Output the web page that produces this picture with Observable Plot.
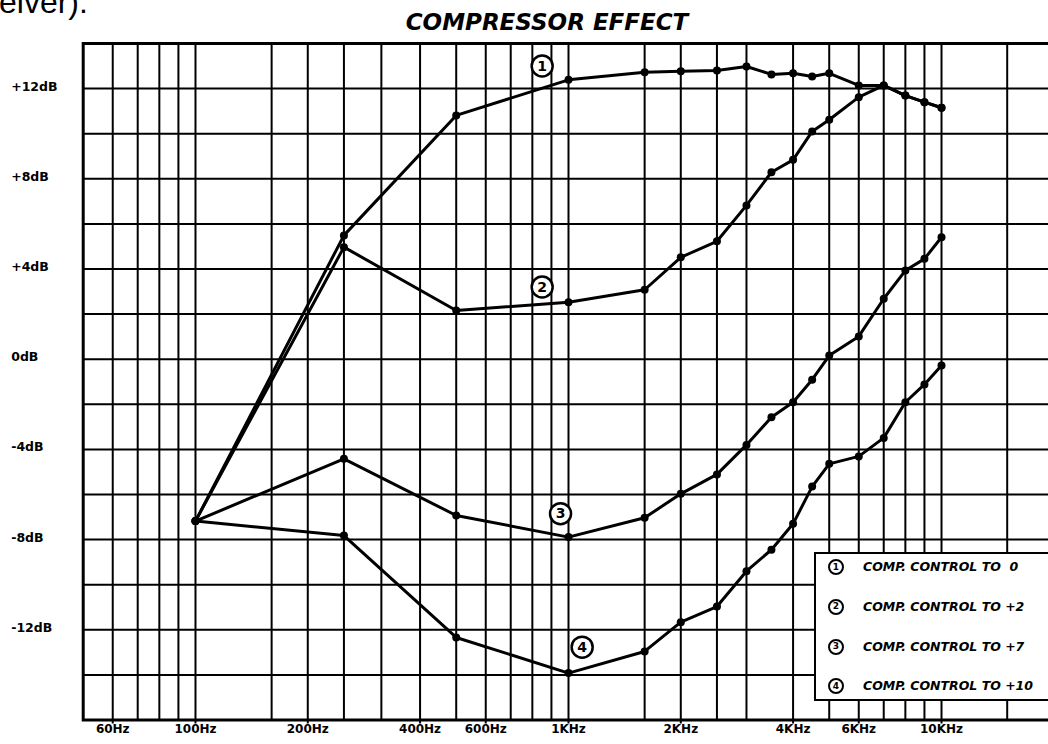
<!DOCTYPE html>
<html><head><meta charset="utf-8">
<script src="https://cdn.jsdelivr.net/npm/d3@7"></script>
<script src="https://cdn.jsdelivr.net/npm/@observablehq/plot@0.6"></script>
<style>
html,body{margin:0;padding:0;background:#fff;overflow:hidden;}
#page{position:relative;width:1048px;height:744px;overflow:hidden;background:#fff;}
#chart{position:absolute;left:0;top:0;width:1060px;height:744px;}
#chart svg{max-width:none !important;}
#frag{position:absolute;left:-1px;top:-14px;font-family:"Liberation Sans",Arial,sans-serif;font-size:32px;line-height:32px;color:#000;white-space:pre;}
#title{position:absolute;left:0;width:1094px;top:10.6px;text-align:center;font-family:"DejaVu Sans",sans-serif;font-weight:bold;font-style:italic;font-size:23px;line-height:23px;color:#000;}
#legend{position:absolute;left:814px;top:552px;width:260px;height:149px;border:2px solid #000;background:#fff;box-sizing:border-box;}
.row{position:absolute;left:0;height:20px;display:flex;align-items:center;}
.badge{position:absolute;left:12px;width:16px;height:16px;border:2.5px solid #000;border-radius:50%;box-sizing:border-box;display:flex;align-items:center;justify-content:center;font-family:"DejaVu Sans",sans-serif;font-weight:bold;font-size:9px;line-height:9px;}
.ltxt{position:absolute;left:47px;white-space:pre;font-family:"DejaVu Sans",sans-serif;font-weight:bold;font-style:italic;font-size:12.5px;line-height:14px;}
</style>
</head><body>
<div id="page">
  <div id="chart"></div>
  <div id="frag">eiver).</div>
  <div id="title">COMPRESSOR EFFECT</div>
  <div id="legend"></div>
</div>
<script>
// ---- data ----
const freqs = [100, 250, 500, 1000, 1600, 2000, 2500, 3000, 3500, 4000, 4500, 5000, 6000, 7000, 8000, 9000, 10000];
const curve1 = [-7.18, 5.49, 10.81, 12.39, 12.73, 12.77, 12.80, 12.98, 12.63, 12.68, 12.54, 12.68, 12.14, 12.14, 11.69, 11.40, 11.15];
const curve2 = [-7.18, 4.97, 2.16, 2.53, 3.08, 4.52, 5.23, 6.82, 8.29, 8.84, 10.10, 10.62, 11.62, 12.14, 11.69, 11.40, 11.15];
const curve3 = [-7.18, -4.42, -6.93, -7.89, -7.03, -5.97, -5.11, -3.80, -2.57, -1.91, -0.91, 0.16, 1.01, 2.68, 3.93, 4.45, 5.41];
const curve4 = [-7.18, -7.82, -12.34, -13.92, -12.96, -11.66, -10.97, -9.40, -8.45, -7.30, -5.65, -4.64, -4.31, -3.49, -1.91, -1.12, -0.28];
const seriesIds = ["1", "2", "3", "4"];
const legendLabels = ["COMP. CONTROL TO  0", "COMP. CONTROL TO +2", "COMP. CONTROL TO +7", "COMP. CONTROL TO +10"];
const tagFreq = [850, 850, 952, 1088];
const tagDb = [13.0, 3.2, -6.85, -12.77];
const gridFreqs = [60, 70, 80, 90, 100, 160, 200, 250, 315, 400, 500, 600, 700, 800, 900, 1000, 1600, 2000, 2500, 3000, 4000, 5000, 6000, 7000, 8000, 9000, 10000, 15000];
const gridDb = [-14, -12, -10, -8, -6, -4, -2, 0, 2, 4, 6, 8, 10, 12];
const xTickValues = [60, 100, 200, 400, 600, 1000, 2000, 4000, 6000, 10000];
const xTickLabels = ["60Hz", "100Hz", "200Hz", "400Hz", "600Hz", "1KHz", "2KHz", "4KHz", "6KHz", "10KHz"];
const yTickValues = [12, 8, 4, 0, -4, -8, -12];
const yTickLabels = ["+12dB", "+8dB", "+4dB", "0dB", "-4dB", "-8dB", "-12dB"];

// ---- build tables ----
const curves = [curve1, curve2, curve3, curve4];
const table = curves.flatMap((c, s) => c.map((v, i) => ({s: seriesIds[s], f: freqs[i], db: v})));
const tags = seriesIds.map((id, i) => ({id, f: tagFreq[i], db: tagDb[i]}));

const chart = Plot.plot({
  width: 1060,
  height: 744,
  marginLeft: 82.7,
  marginRight: 6.7,
  marginTop: 43,
  marginBottom: 24.5,
  x: {type: "log", domain: [50, 20000], axis: null},
  y: {domain: [-16, 14], axis: null},
  style: {fontFamily: "DejaVu Sans, sans-serif", fontWeight: "bold", background: "white", color: "black", maxWidth: "none"},
  marks: [
    Plot.ruleX(gridFreqs, {stroke: "black", strokeWidth: 2}),
    Plot.ruleY(gridDb, {stroke: "black", strokeWidth: 2}),
    Plot.frame({stroke: "black", strokeWidth: 3}),
    Plot.axisX(xTickValues, {anchor: "bottom", tickSize: 4, strokeWidth: 2, tickFormat: () => "", label: null}),
    Plot.text(xTickValues, {x: d => d, text: (d, i) => xTickLabels[i], frameAnchor: "bottom", lineAnchor: "top", dy: 4, fontSize: 12, fontWeight: "bold", fill: "black"}),
    Plot.text(yTickValues, {y: d => d, text: (d, i) => yTickLabels[i], frameAnchor: "left", dx: -72, dy: -2, textAnchor: "start", fontSize: 12.5, fontWeight: "bold", fill: "black"}),
    Plot.line(table, {x: "f", y: "db", z: "s", stroke: "black", strokeWidth: 3, strokeLinejoin: "round"}),
    Plot.dot(table, {x: "f", y: "db", r: 4, fill: "black", stroke: "none"}),
    Plot.dot(tags, {x: "f", y: "db", r: 10.5, fill: "white", stroke: "black", strokeWidth: 2.5}),
    Plot.text(tags, {x: "f", y: "db", text: "id", fontSize: 14, fontWeight: "bold", fill: "black"})
  ]
});
document.getElementById("chart").appendChild(chart);

// ---- legend ----
const legend = document.getElementById("legend");
legendLabels.forEach((lab, i) => {
  const row = document.createElement("div");
  row.className = "row";
  row.style.top = (3 + i * 39.8) + "px";
  const b = document.createElement("div");
  b.className = "badge";
  b.textContent = seriesIds[i];
  const t = document.createElement("div");
  t.className = "ltxt";
  t.textContent = lab;
  row.appendChild(b);
  row.appendChild(t);
  legend.appendChild(row);
});
</script>
</body></html>
